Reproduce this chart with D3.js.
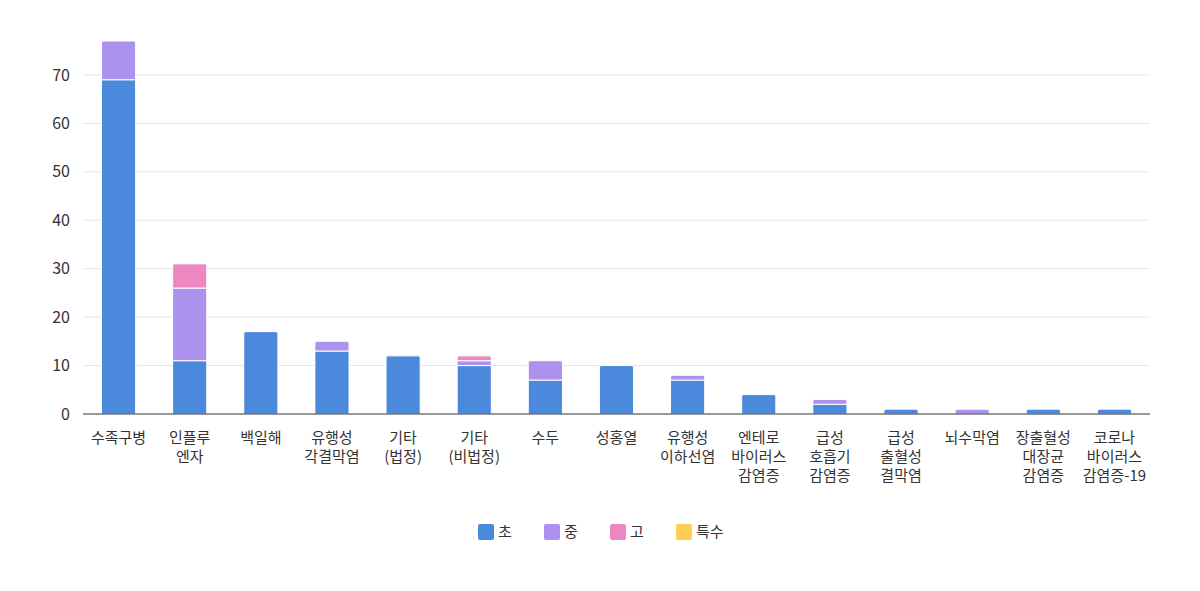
<!DOCTYPE html>
<html>
<head>
<meta charset="utf-8">
<script src="https://cdn.jsdelivr.net/npm/d3@7"></script>
<style>
  body { margin: 0; background: #fff; }
  svg { font-family: "Noto Sans CJK KR", "Noto Sans", sans-serif; }
</style>
</head>
<body>
<div id="chart"></div>
<script>
const categories = [
  ["수족구병"], ["인플루", "엔자"], ["백일해"], ["유행성", "각결막염"],
  ["기타", "(법정)"], ["기타", "(비법정)"], ["수두"], ["성홍열"],
  ["유행성", "이하선염"], ["엔테로", "바이러스", "감염증"], ["급성", "호흡기", "감염증"],
  ["급성", "출혈성", "결막염"], ["뇌수막염"], ["장출혈성", "대장균", "감염증"],
  ["코로나", "바이러스", "감염증-19"]
];
const seriesNames = ["초", "중", "고", "특수"];
const cho    = [69, 11, 17, 13, 12, 10, 7, 10, 7, 4, 2, 1, 0, 1, 1];
const jung   = [8, 15, 0, 2, 0, 1, 4, 0, 1, 0, 1, 0, 1, 0, 0];
const go     = [0, 5, 0, 0, 0, 1, 0, 0, 0, 0, 0, 0, 0, 0, 0];
const teuksu = [0, 0, 0, 0, 0, 0, 0, 0, 0, 0, 0, 0, 0, 0, 0];
const yTicks = [0, 10, 20, 30, 40, 50, 60, 70];
const colors = ["#4a89dc", "#ac92ec", "#ec87c0", "#ffce54"];

const W = 1200, H = 591;
const margin = { top: 41, right: 50, bottom: 177, left: 83 };
const width = W - margin.left - margin.right;
const height = H - margin.top - margin.bottom;

const rows = categories.map((c, i) => ({
  key: i, "초": cho[i], "중": jung[i], "고": go[i], "특수": teuksu[i]
}));
const stacked = d3.stack().keys(seriesNames)(rows);

const svg = d3.select("#chart").append("svg")
  .attr("width", W).attr("height", H)
  .append("g")
  .attr("transform", `translate(${margin.left},${margin.top})`);

const x = d3.scaleBand().domain(d3.range(categories.length)).range([0, width]).paddingInner(0.52).paddingOuter(0.26);
const y = d3.scaleLinear().domain([0, 77]).range([height, 0]);

// grid
svg.append("g").selectAll("line").data(yTicks.filter(d => d > 0)).join("line")
  .attr("x1", 0).attr("x2", width)
  .attr("y1", d => y(d)).attr("y2", d => y(d))
  .attr("stroke", "#e6e6e6").attr("stroke-width", 1);

// y labels
svg.append("g").selectAll("text").data(yTicks).join("text")
  .attr("x", -13).attr("y", d => y(d)).attr("dy", "0.35em")
  .attr("text-anchor", "end").attr("font-size", 16).attr("fill", "#333")
  .text(d => d);

// bars
const r = 2;
function segPath(x0, w, yTop, yBot, rounded) {
  const h = yBot - yTop;
  if (!rounded || h < r) return `M${x0},${yBot}V${yTop}H${x0 + w}V${yBot}Z`;
  return `M${x0},${yBot}V${yTop + r}Q${x0},${yTop} ${x0 + r},${yTop}H${x0 + w - r}Q${x0 + w},${yTop} ${x0 + w},${yTop + r}V${yBot}Z`;
}
stacked.forEach((layer, li) => {
  svg.append("g").selectAll("path").data(layer).join("path")
    .filter(d => d[1] - d[0] > 0)
    .attr("d", (d, i) => {
      const idx = d.data.key;
      const top = seriesNames.slice(li + 1).every(k => rows[idx][k] === 0);
      return segPath(x(idx), x.bandwidth(), y(d[1]), y(d[0]), top);
    })
    .attr("fill", colors[li])
    .attr("stroke", "#fff").attr("stroke-width", 1);
});

// axis line
svg.append("line").attr("x1", 0).attr("x2", width).attr("y1", height).attr("y2", height)
  .attr("stroke", "#333").attr("stroke-width", 1);

// x labels
const xl = svg.append("g").selectAll("text").data(categories).join("text")
  .attr("x", (d, i) => x(i) + x.bandwidth() / 2)
  .attr("y", height + 29)
  .attr("text-anchor", "middle").attr("font-size", 15).attr("fill", "#333");
xl.selectAll("tspan").data(d => d).join("tspan")
  .attr("x", function () { return this.parentNode.getAttribute("x"); })
  .attr("dy", (d, i) => i === 0 ? 0 : 19)
  .text(d => d);

// legend
const legend = svg.append("g").attr("transform", `translate(${478 - margin.left},${532 - margin.top})`);
const li = legend.selectAll("g").data(seriesNames).join("g")
  .attr("transform", (d, i) => `translate(${i * 66},0)`);
li.append("rect").attr("x", 0).attr("y", -8).attr("width", 16).attr("height", 16).attr("rx", 2)
  .attr("fill", (d, i) => colors[i]);
li.append("text").attr("x", 20).attr("y", 0).attr("dy", "0.35em")
  .attr("font-size", 15).attr("fill", "#333").text(d => d);
</script>
</body>
</html>
